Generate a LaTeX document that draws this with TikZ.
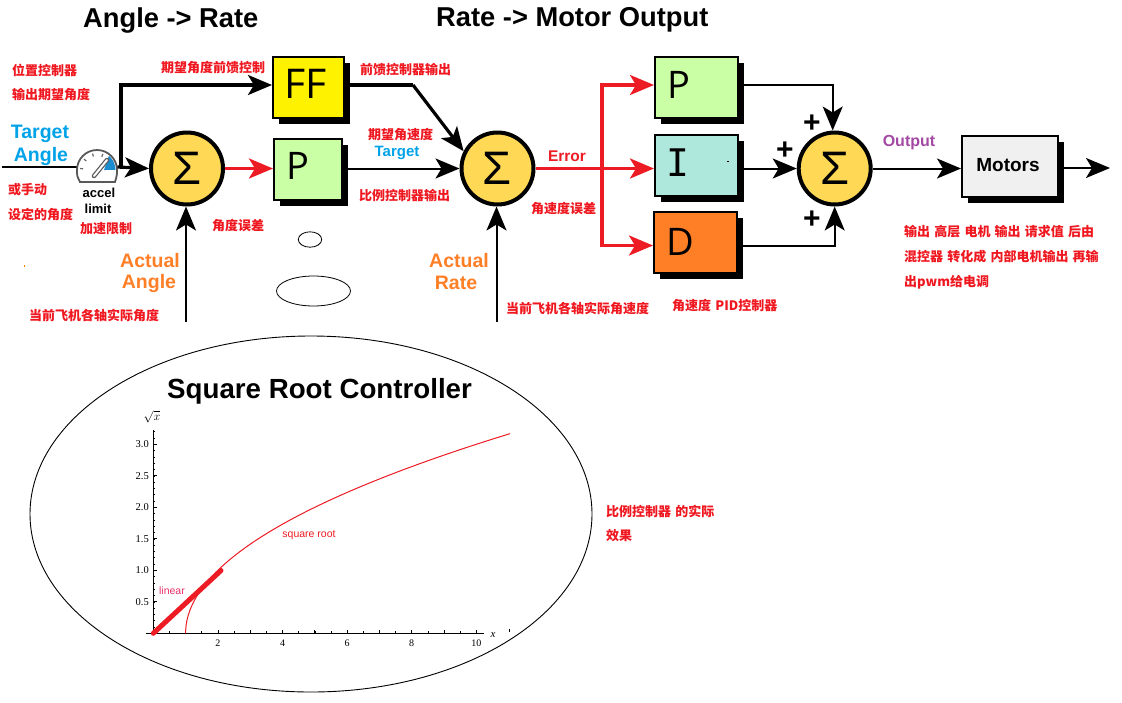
\documentclass[tikz,border=0pt]{standalone}
\usepackage{fontspec}
\usepackage[rgb]{xcolor}
\usepackage{tikz}
\usetikzlibrary{arrows.meta,shadows}
\setmainfont{Liberation Sans}
\newfontfamily\cjk[WordSpace=1.4]{Noto Sans CJK SC}
\newfontfamily\boxfont{Open Sans}
\newfontfamily\itemfont{DejaVu Sans Mono}
\newfontfamily\plotfont{Liberation Serif}
\newcommand{\fsize}[1]{\fontsize{#1}{#1}\selectfont}
\definecolor{lblred}{HTML}{F01820}
\definecolor{lineRed}{HTML}{ED1C24}
\definecolor{lblblue}{HTML}{00A2E8}
\definecolor{lblorange}{HTML}{FF7F27}
\definecolor{lblpurple}{HTML}{A349A4}
\definecolor{lblpink}{HTML}{E8306A}
\definecolor{sumyellow}{HTML}{FFD955}
\definecolor{ffyellow}{HTML}{FFF200}
\definecolor{pgreen}{HTML}{CBFFA5}
\definecolor{iteal}{HTML}{AEE8DC}
\definecolor{dorange}{HTML}{FF7F27}
\definecolor{motorgrey}{HTML}{F0F0F0}
\definecolor{gaugeblue}{HTML}{1C8CD0}
\tikzset{
  note/.style={anchor=west, inner sep=0pt, yshift=-1pt, text=lblred, font=\cjk\bfseries\fsize{13}},
  bigblue/.style={inner sep=0pt, text=lblblue, font=\bfseries\fsize{19.5}},
  bigorange/.style={inner sep=0pt, text=lblorange, font=\bfseries\fsize{19.5}},
  headline/.style={anchor=west, inner sep=0pt, font=\bfseries\fsize{27.3}},
  sumnode/.style={circle, draw=black, line width=4pt, fill=sumyellow, minimum size=72pt, inner sep=0pt, font=\fsize{47}},
  ctrlbox/.style={rectangle, draw=black, line width=2pt, fill=#1, inner sep=0pt, anchor=north west,
    drop shadow={fill=black, opacity=1, shadow xshift=6pt, shadow yshift=-6pt}},
  thin line/.style={black, line width=2pt},
  wide line/.style={black, line width=3.2pt},
  red line/.style={lineRed, line width=3.2pt},
  tip/.style={-{Stealth[length=24pt,width=20pt,inset=6pt]}},
  plotlabel/.style={inner sep=0pt, font=\plotfont\fsize{10}},
}
\begin{document}
\begin{tikzpicture}[x=1pt, y=-1pt]

\path[use as bounding box, fill=white] (0,0) rectangle (1122,702);

% headings
\path
(83,20) node[headline](anglehead) {Angle -> Rate}
(436,20) node[headline](ratehead) {Rate -> Motor Output}
(167,391) node[headline, font=\bfseries\fsize{27.7}](roothead) {Square Root Controller};

%% blocks
\path
(187,168.5) node[sumnode](anglesum) {Σ}
(497.5,168.5) node[sumnode](ratesum) {Σ}
(834.7,168.5) node[sumnode](outsum) {Σ}
(272,56) node[ctrlbox=ffyellow, minimum width=71pt, minimum height=61pt](ffbox) {}
(273,138) node[ctrlbox=pgreen, minimum width=68pt, minimum height=61pt](anglep) {}
(654,56) node[ctrlbox=pgreen, minimum width=83pt, minimum height=61pt](ratep) {}
(654,134) node[ctrlbox=iteal, minimum width=83pt, minimum height=61pt](ratei) {}
(653,211) node[ctrlbox=dorange, minimum width=83pt, minimum height=61pt](rated) {}
(961,135) node[ctrlbox=motorgrey, minimum width=96pt, minimum height=61pt](motors) {};
\path
(306,84) node[inner sep=0pt, font=\boxfont\fsize{41}](ffname) {FF}
(298,166) node[inner sep=0pt, font=\boxfont\fsize{38}](anglepname) {P}
(679,85) node[inner sep=0pt, font=\boxfont\fsize{38}](ratepname) {P}
(678,163) node[inner sep=0pt, font=\itemfont\fsize{38}](rateiname) {I}
(680,242) node[inner sep=0pt, font=\boxfont\fsize{38}](ratedname) {D}
(1008,165) node[inner sep=0pt, font=\bfseries\fsize{19}](motorsname) {Motors};

%% accel limit gauge
\path (97,167) node[minimum width=40pt, minimum height=33pt, inner sep=0pt](gauge) {};
\coordinate (input) at (2,167);
\coordinate (branch) at (121,167);
\coordinate (ffbend) at (413,85);
\coordinate (anglein) at (186,322);
\coordinate (ratein) at (496.5,322);
\coordinate (errbranch) at (602,168);
\coordinate (motorout) at (1110,168);

% connectors
\draw[thin line] (input) -- (gauge.west);
\draw[wide line, tip] (gauge.east) -- (anglesum.west);
\draw[wide line, tip] (branch) |- (ffbox.west |- ffbend);
\draw[red line, tip] (anglesum.east) -- (anglep.west |- anglesum.east);
\draw[wide line] (ffbox.east |- ffbend) -- (ffbend);
\draw[wide line, tip] (ffbend) -- (ratesum.153);
\draw[thin line, tip] (anglep.east |- ratesum.west) -- (ratesum.west);
\draw[thin line, tip] (anglein) -- (anglein |- anglesum.south);
\draw[thin line, tip] (ratein) -- (ratein |- ratesum.south);
\draw[red line, tip] (ratesum.east) -- (ratei.west |- ratesum.east);
\draw[red line, tip] (errbranch) |- (ratep.west |- ffbend);
\draw[red line, tip] (errbranch) |- ([yshift=-3pt]rated.west);
\draw[thin line, tip] (ratep.east |- ffbend) -| ([xshift=-2pt]outsum.north);
\draw[thin line, tip] (ratei.east |- outsum.west) -- (outsum.west);
\draw[thin line, tip] ([yshift=-3pt]rated.east) -| (outsum.south);
\draw[thin line, tip] (outsum.east) -- (motors.west |- outsum.east);
\draw[thin line, tip] (motors.east |- motorout) -- (motorout);

% gauge drawing
\draw[black!65, line width=1.8pt, fill=white] (77,170) arc (180:0:20pt) .. controls (117,175) .. (115,182) -- (80,182) .. controls (77,176) .. (77,170);
\fill[gaugeblue] (104,170) -- (108.9,155.8) arc (50:0:18.5pt) -- cycle;
\foreach \a in {175,140,105,70}
  \draw[black!60, line width=1.2pt] ({97+17*cos(\a)},{170-17*sin(\a)}) -- ({97+14*cos(\a)},{170-14*sin(\a)});
\draw[black!65, line width=4.5pt, line cap=round] (94,176) -- (107,160);
\draw[white, line width=2pt, line cap=round] (94,176) -- (107,160);

%% labels
\path
(40,134) node[bigblue](targetword) {Target}
(41,156) node[bigblue](angleword) {Angle}
(150,261) node[bigorange](actualangle) {Actual}
(149,283) node[bigorange](actualanglew) {Angle}
(459,261) node[bigorange](actualrate) {Actual}
(456,283) node[bigorange](actualratew) {Rate}
(397,153) node[inner sep=0pt, text=lblblue, font=\bfseries\fsize{15}](ratetarget) {Target}
(567,156) node[inner sep=0pt, text=lineRed, font=\bfseries\fsize{15.5}](errorword) {Error}
(909,143) node[inner sep=0pt, text=lblpurple, font=\bfseries\fsize{16}](outputword) {Output}
(99,193) node[inner sep=0pt, font=\fsize{13}\bfseries](accelword) {accel}
(98,209) node[inner sep=0pt, font=\fsize{13}\bfseries](limitword) {limit}
(812,124) node[inner sep=0pt, font=\bfseries\fsize{30}](plusa) {+}
(785,151) node[inner sep=0pt, font=\bfseries\fsize{30}](plusb) {+}
(812,220) node[inner sep=0pt, font=\bfseries\fsize{30}](plusc) {+};

%% chinese notes
\path
(12,69) node[note](notea) {位置控制器}
(12,94) node[note](noteb) {输出期望角度}
(8,189) node[note](notec) {或手动}
(8,214) node[note](noted) {设定的角度}
(80,228) node[note](notee) {加速限制}
(212,225) node[note](notef) {角度误差}
(29,315) node[note](noteg) {当前飞机各轴实际角度}
(161,67) node[note](noteh) {期望角度前馈控制}
(360,69) node[note](notei) {前馈控制器输出}
(368,134) node[note](notej) {期望角速度}
(359,195) node[note](notek) {比例控制器输出}
(531,208) node[note](notel) {角速度误差}
(506,308) node[note](notem) {当前飞机各轴实际角速度}
(672,305) node[note](noten) {角速度 PID控制器}
(904,231) node[note](noteo) {输出 高层 电机 输出 请求值 后由}
(904,256) node[note](notep) {混控器 转化成 内部电机输出 再输}
(904,281) node[note](noteq) {出pwm给电调}
(606,510) node[note](noter) {比例控制器 的实际}
(606,535) node[note](notes) {效果};

% stray marks
\fill[orange] (24,265) rectangle (25,267);
\fill[black] (726.5,160.5) rectangle (729,161.5);
\draw[black, line width=0.8pt] (310,239.5) ellipse (11.7pt and 7.7pt);
\draw[black, line width=0.8pt] (313.5,291) ellipse (37pt and 15pt);
\draw[black, line width=0.9pt] (311,514) ellipse (281pt and 178pt);

%% square root plot
\draw[black, line width=1pt] (146,633.3) -- (484,633.3);
\draw[black, line width=1pt] (153.3,633.3) -- (153.3,430);
\foreach \i in {0,...,20}
  \draw[black, line width=0.6pt] ({153.3+16.15*\i},633.3) -- ({153.3+16.15*\i},631);
\foreach \i in {1,...,10}
  \draw[black, line width=0.8pt] ({153.3+32.3*\i},633.3) -- ({153.3+32.3*\i},629.5);
\foreach \i in {1,...,32}
  \draw[black, line width=0.6pt] (153.3,{633.3-6.3*\i}) -- (155.3,{633.3-6.3*\i});
\foreach \i in {1,...,6}
  \draw[black, line width=0.8pt] (153.3,{633.3-31.5*\i}) -- (157,{633.3-31.5*\i});
\draw[black, line width=0.8pt] (509.5,629) -- (509.5,632);
\foreach \v in {2,4,6,8,10}
  \path ({153.3+32.3*\v},643) node[plotlabel](xlab\v) {\v};
\foreach \v in {0.5,1.0,1.5,2.0,2.5,3.0}
  \path (149,{633.3-63*\v}) node[plotlabel, anchor=east, font=\plotfont\fsize{10.5}](ylab\v) {\v};
\path
(493,635) node[plotlabel, font=\plotfont\itshape\fsize{11}](xname) {x}
(152,417) node[plotlabel, font=\plotfont\fsize{12}](yname) {$\sqrt{x}$};
\draw[lineRed, line width=1pt] plot[domain=0:3.17, samples=70, smooth] ({153.3+32.3*(1+\x*\x)},{633.3-63*\x});
\draw[lineRed, line width=5pt, line cap=round] (153.3,633.3) -- (221,570.5);
\path
(172,591) node[inner sep=0pt, text=lblpink, font=\fsize{10.5}](linearword) {linear}
(309,535) node[inner sep=0pt, text=lineRed, font=\fsize{10.5}](rootword) {square root};

\end{tikzpicture}
\end{document}
